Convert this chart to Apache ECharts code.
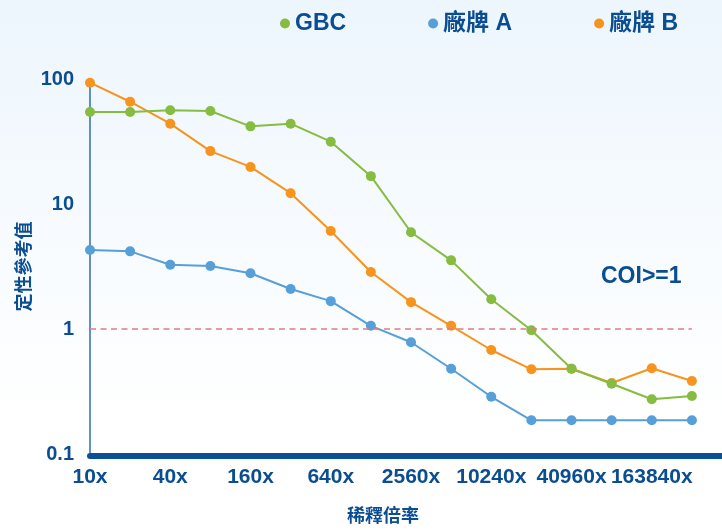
<!DOCTYPE html>
<html>
<head>
<meta charset="utf-8">
<script src="https://cdn.jsdelivr.net/npm/echarts@6/dist/echarts.min.js"></script>
<style>html,body{margin:0;padding:0;background:#fff}#c{width:722px;height:530px}</style>
</head>
<body>
<div id="c"></div>
<script>
const categories = ['10x','20x','40x','80x','160x','320x','640x','1280x','2560x','5120x','10240x','20480x','40960x','81920x','163840x','327680x'];
const gbc    = [54.5, 54.5, 56.2, 55.5, 41.8, 43.9, 31.5, 16.7, 5.94, 3.54, 1.73, 0.976, 0.481, 0.365, 0.274, 0.291];
const brandA = [4.29, 4.18, 3.27, 3.19, 2.79, 2.09, 1.67, 1.06, 0.783, 0.481, 0.287, 0.186, 0.186, 0.186, 0.186, 0.186];
const brandB = [93.4, 65.8, 43.9, 26.5, 19.8, 12.2, 6.08, 2.86, 1.64, 1.06, 0.679, 0.476, 0.481, 0.370, 0.485, 0.384];
const yTicks = [0.1, 1, 10, 100];
const cutoff = 1;
const seriesNames = ['GBC', '廠牌 A', '廠牌 B'];

const FONT = '"Liberation Sans", Arial, "Noto Sans CJK TC", sans-serif';
const DARK = '#0b4d91';
const toPairs = arr => arr.map((v, i) => [i, v]);

const chart = echarts.init(document.getElementById('c'));
chart.setOption({
  animation: false,
  backgroundColor: {
    type: 'linear', x: 0, y: 0, x2: 0, y2: 1,
    colorStops: [{offset: 0, color: '#edf6fd'}, {offset: 0.8, color: '#ffffff'}, {offset: 1, color: '#ffffff'}]
  },
  legend: {
    data: seriesNames,
    left: 275, top: 7,
    icon: 'circle', itemWidth: 10, itemHeight: 10, itemGap: 82,
    textStyle: {color: DARK, fontSize: 23, fontWeight: 'bold', fontFamily: FONT}
  },
  grid: {left: 90, right: 0, top: 79, bottom: 76, outerBoundsMode: 'none', containLabel: false},
  xAxis: {
    type: 'value', min: 0, max: 15.75, interval: 2, offset: 2,
    name: '稀釋倍率', nameLocation: 'middle', nameGap: 52, nameMoveOverlap: false,
    nameTextStyle: {color: DARK, fontSize: 18, fontWeight: 'bold', fontFamily: FONT, padding: [0, 46, 0, 0]},
    axisLine: {lineStyle: {color: '#0b4f96', width: 6}},
    axisTick: {show: false},
    splitLine: {show: false},
    axisLabel: {
      color: DARK, fontSize: 21, fontWeight: 'bold', fontFamily: FONT, margin: 11,
      showMaxLabel: false,
      formatter: v => Number.isInteger(v) && categories[v] ? categories[v] : ''
    }
  },
  yAxis: {
    type: 'log', logBase: 10, min: yTicks[0], max: yTicks[yTicks.length - 1],
    name: '定性參考值', nameLocation: 'middle', nameGap: 56, nameRotate: 90, nameMoveOverlap: false,
    nameTextStyle: {color: DARK, fontSize: 18, fontWeight: 'bold', fontFamily: FONT},
    axisLine: {show: true, lineStyle: {color: '#2e6cb0', width: 1.5}},
    axisTick: {show: false},
    splitLine: {show: false},
    axisLabel: {color: DARK, fontSize: 20, fontWeight: 'bold', fontFamily: FONT, margin: 16}
  },
  graphic: [{
    type: 'text', left: 601, top: 265,
    style: {text: 'COI>=1', fill: DARK, font: 'bold 23px ' + FONT}
  }],
  series: [
    {
      name: seriesNames[1], type: 'line', data: toPairs(brandA),
      symbol: 'circle', symbolSize: 10, color: '#579fd9',
      lineStyle: {width: 2}, z: 2
    },
    {
      name: seriesNames[2], type: 'line', data: toPairs(brandB),
      symbol: 'circle', symbolSize: 10, color: '#f7941d',
      lineStyle: {width: 2}, z: 3,
      markLine: {
        silent: true, symbol: 'none', label: {show: false},
        lineStyle: {color: '#de7e88', type: [6, 4.5], width: 1.6},
        data: [[{coord: [0, cutoff]}, {coord: [categories.length - 1, cutoff]}]]
      }
    },
    {
      name: seriesNames[0], type: 'line', data: toPairs(gbc),
      symbol: 'circle', symbolSize: 10, color: '#86bc40',
      lineStyle: {width: 2}, z: 4
    }
  ]
});
</script>
</body>
</html>
